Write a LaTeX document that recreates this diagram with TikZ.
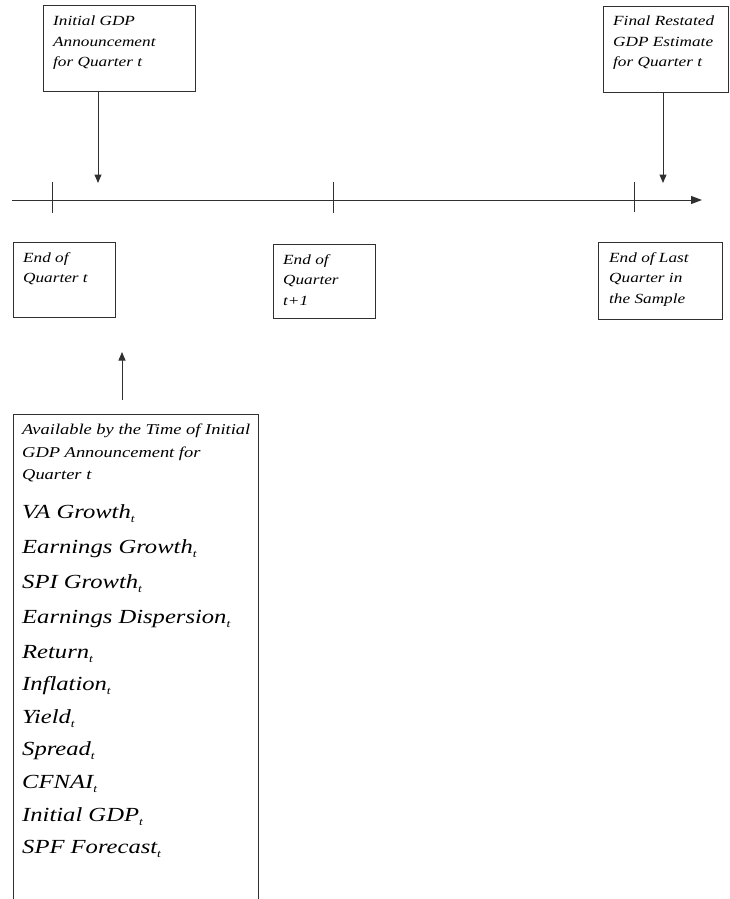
\documentclass[tikz,border=0pt]{standalone}
\usepackage{fontspec}
\setmainfont{Liberation Serif}[FakeStretch=1.23]
\usetikzlibrary{arrows.meta}
\definecolor{ln}{HTML}{303030}
\newcommand{\sbt}{\raisebox{-0.22em}{\fontsize{11}{11}\selectfont t}}
\tikzset{
  boxx/.style={draw=ln, line width=1pt, inner sep=0pt},
  lbl/.style={anchor=north west, inner sep=0pt, align=left, font=\fontsize{14}{20.5}\selectfont\itshape},
  hdr/.style={anchor=north west, inner sep=0pt, align=left, font=\fontsize{15}{22.5}\selectfont\itshape},
  var/.style={anchor=base west, inner sep=0pt, font=\fontsize{20}{22}\selectfont\itshape},
  arr/.style={draw=ln, line width=1pt, -{Triangle[length=8.5pt,width=7pt]}},
  tick/.style={draw=ln, line width=1pt}
}
\begin{document}
\begin{tikzpicture}[x=1pt,y=-1pt]
\useasboundingbox (0,0) rectangle (730,899);
% boxes
\node[boxx, minimum width=152pt, minimum height=85pt] (b1) at (119,48.5) {};
\node[boxx, minimum width=125pt, minimum height=85pt] (b2) at (665.5,49.5) {};
\node[boxx, minimum width=102pt, minimum height=75pt] (e1) at (64,279.5) {};
\node[boxx, minimum width=102pt, minimum height=74pt] (e2) at (324,281) {};
\node[boxx, minimum width=124pt, minimum height=77pt] (e3) at (660,280.5) {};
% box texts
\node[lbl] (t1) at (53,16) {Initial GDP\\Announcement\\for Quarter t};
\node[lbl] (t2) at (613,16) {Final Restated\\GDP Estimate\\for Quarter t};
\node[lbl] (t3) at (23,252) {End of\\Quarter t};
\node[lbl] (t4) at (283,254) {End of\\Quarter\\t+1};
\node[lbl] (t5) at (609,252) {End of Last\\Quarter in\\the Sample};
% timeline
\coordinate (tl0) at (12,200);
\coordinate (tl1) at (702,200);
\draw[draw=ln, line width=1pt, -{Triangle[length=11pt,width=8pt]}] (tl0) -- (tl1);
\coordinate (k1a) at (52,182); \coordinate (k1b) at (52,213);
\coordinate (k2a) at (333,182); \coordinate (k2b) at (333,213);
\coordinate (k3a) at (634,182); \coordinate (k3b) at (634,212);
\draw[tick] (k1a) -- (k1b);
\draw[tick] (k2a) -- (k2b);
\draw[tick] (k3a) -- (k3b);
% arrows from top boxes
\coordinate (a1) at (98,183);
\draw[arr] (b1.south -| a1) -- (a1);
\coordinate (a2) at (663,183);
\draw[arr] (b2.south -| a2) -- (a2);
% up arrow
\coordinate (u0) at (122,400);
\coordinate (u1) at (122,352);
\draw[arr] (u0) -- (u1);
% big box (open bottom)
\coordinate (bb1) at (13,899);
\coordinate (bb2) at (13,414);
\coordinate (bb3) at (258,414);
\coordinate (bb4) at (258,899);
\draw[draw=ln, line width=1pt] (bb1) -- (bb2) -- (bb3) -- (bb4);
\node[hdr] (h) at (22,424) {Available by the Time of Initial\\GDP Announcement for\\Quarter t};
\node[var] (v1) at (22,518) {VA Growth\sbt};
\node[var] (v2) at (22,553) {Earnings Growth\sbt};
\node[var] (v3) at (22,588) {SPI Growth\sbt};
\node[var] (v4) at (22,623) {Earnings Dispersion\sbt};
\node[var] (v5) at (22,658) {Return\sbt};
\node[var] (v6) at (22,690) {Inflation\sbt};
\node[var] (v7) at (22,723) {Yield\sbt};
\node[var] (v8) at (22,755) {Spread\sbt};
\node[var] (v9) at (22,788) {CFNAI\sbt};
\node[var] (v10) at (22,821) {Initial GDP\sbt};
\node[var] (v11) at (22,853) {SPF Forecast\sbt};
\end{tikzpicture}
\end{document}
